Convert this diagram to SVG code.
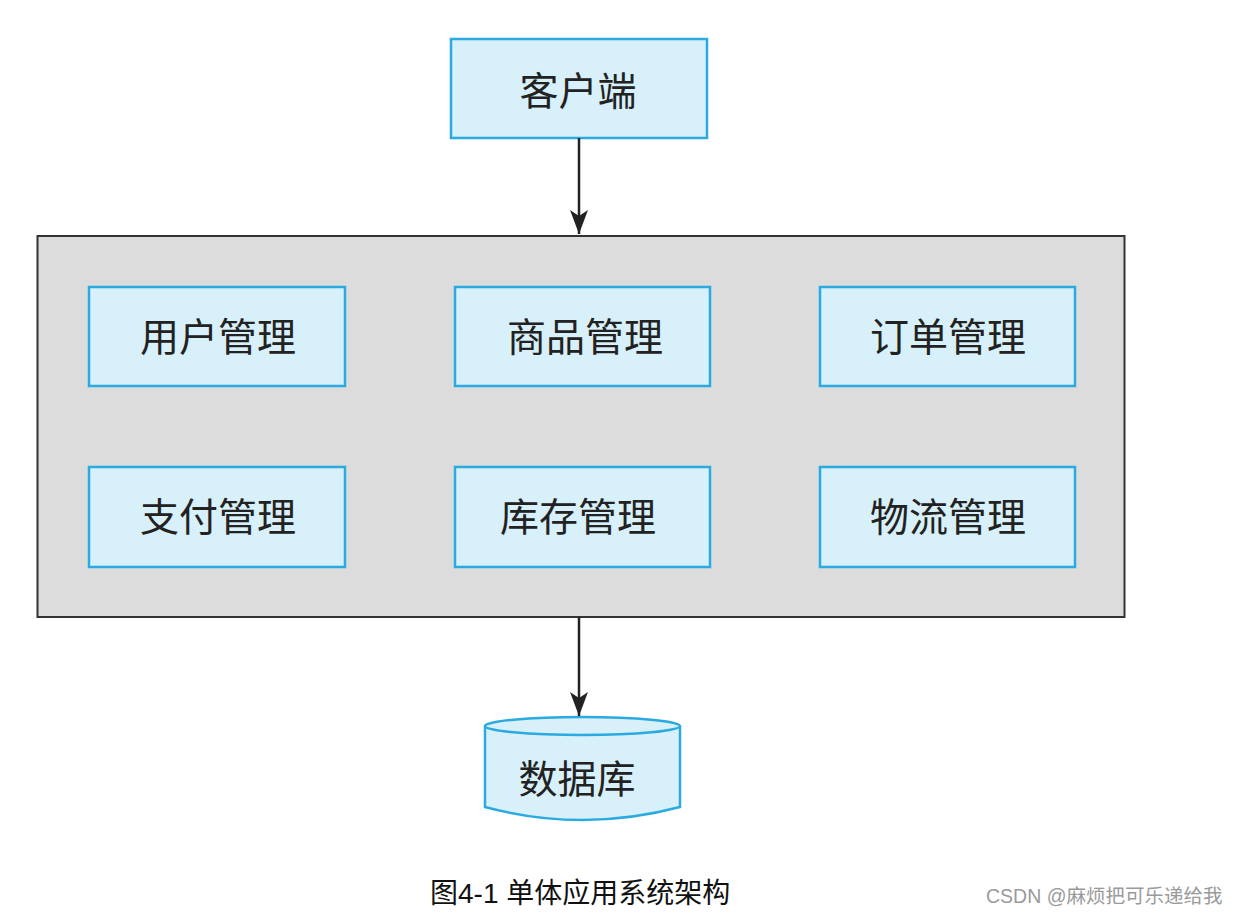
<svg xmlns="http://www.w3.org/2000/svg" width="1237" height="917" viewBox="0 0 1237 917">
<style>
.box{fill:#d7f0f9;stroke:#2aaae0;stroke-width:2.5}
.lbl{font-family:"Noto Sans CJK SC",sans-serif;font-size:39px;fill:#222;text-anchor:middle;dominant-baseline:central}
.conn{stroke:#222;stroke-width:2.5;fill:none}
</style>
<defs>
<marker id="ah" markerWidth="26" markerHeight="20" refX="24" refY="10" orient="auto" markerUnits="userSpaceOnUse">
<path d="M0,1 L24,10 L0,19 L6,10 Z" fill="#222"/>
</marker>
</defs>
<rect width="1237" height="917" fill="#fff"/>
<g id="container">
<rect x="37.5" y="236" width="1087" height="381" fill="#dcdcdc" stroke="#333" stroke-width="2"/>
</g>
<g id="client">
<rect class="box" x="451" y="39" width="256" height="99"/>
<text class="lbl" x="578" y="88">客户端</text>
</g>
<g id="user"><rect class="box" x="89" y="287" width="256" height="99"/><text class="lbl" x="218" y="334">用户管理</text></g>
<g id="product"><rect class="box" x="455" y="287" width="255" height="99"/><text class="lbl" x="585" y="334">商品管理</text></g>
<g id="order"><rect class="box" x="820" y="287" width="255" height="99"/><text class="lbl" x="948" y="334">订单管理</text></g>
<g id="payment"><rect class="box" x="89" y="467" width="256" height="100"/><text class="lbl" x="218" y="514">支付管理</text></g>
<g id="inventory"><rect class="box" x="455" y="467" width="255" height="100"/><text class="lbl" x="578" y="514">库存管理</text></g>
<g id="logistics"><rect class="box" x="820" y="467" width="255" height="100"/><text class="lbl" x="948" y="514">物流管理</text></g>
<g id="database">
<path class="box" d="M485,726 L485,807 Q582.5,833 680,807 L680,726"/>
<ellipse class="box" cx="582.5" cy="726" rx="97.5" ry="9"/>
<text class="lbl" x="577" y="776">数据库</text>
</g>
<g id="connectors">
<line class="conn" x1="579" y1="138" x2="579" y2="234" marker-end="url(#ah)"/>
<line class="conn" x1="579" y1="617" x2="579" y2="716" marker-end="url(#ah)"/>
</g>
<text x="430" y="903" font-family="'Liberation Sans','Noto Sans CJK SC',sans-serif" font-size="28" fill="#111">图4-1 单体应用系统架构</text>
<text x="986" y="903" font-family="'Liberation Sans','Noto Sans CJK SC',sans-serif" font-size="19.5" fill="#9a9a9a">CSDN @麻烦把可乐递给我</text>
</svg>
